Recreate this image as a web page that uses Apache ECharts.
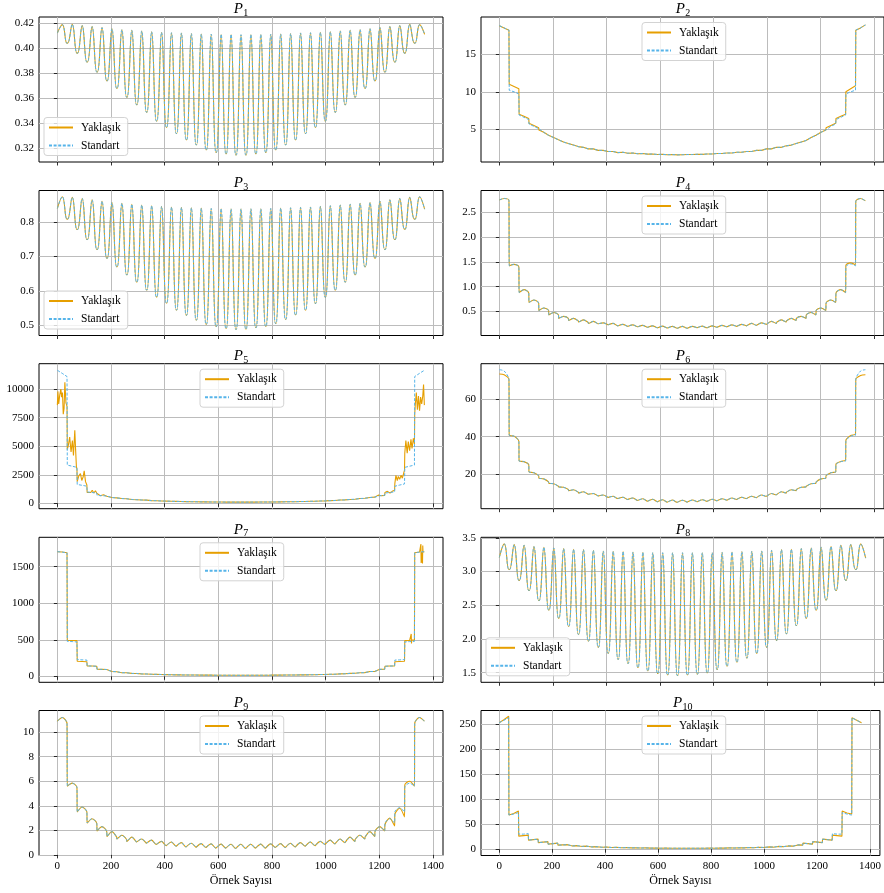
<!DOCTYPE html>
<html>
<head>
<meta charset="utf-8">
<script src="https://cdn.jsdelivr.net/npm/echarts@6/dist/echarts.min.js"></script>
<style>
  html, body { margin: 0; padding: 0; background: #fff; }
  #chart { width: 884px; height: 893px; }
</style>
</head>
<body>
<div id="chart"></div>
<script>
// ---- data: 37 segments of 37 samples each (1369 samples) ----
const SEG = 37;
const xTicks = [0, 200, 400, 600, 800, 1000, 1200, 1400];

// P1, P3, P8: continuous arches -> trough at each boundary, peak in each segment
const p1Trough = [0.412,0.404,0.396,0.389,0.381,0.374,0.368,0.361,0.355,0.349,0.342,0.337,0.332,0.327,0.323,0.319,0.317,0.316,0.315,0.315,0.316,0.317,0.319,0.323,0.327,0.332,0.337,0.342,0.349,0.355,0.361,0.368,0.374,0.381,0.389,0.396,0.404,0.411];
const p1Peak = [0.4187,0.4189,0.4179,0.4171,0.4163,0.4155,0.4147,0.4142,0.4137,0.4131,0.4126,0.4123,0.4121,0.4116,0.4113,0.4111,0.4109,0.4108,0.4107,0.4108,0.4109,0.4111,0.4113,0.4116,0.4121,0.4123,0.4126,0.4131,0.4137,0.4142,0.4147,0.4155,0.4163,0.4171,0.4179,0.4189,0.4187];
const p1Ticks = [0.32, 0.34, 0.36, 0.38, 0.40, 0.42];

const p3Trough = [0.839,0.808,0.778,0.749,0.720,0.695,0.670,0.647,0.626,0.603,0.583,0.565,0.545,0.530,0.516,0.504,0.497,0.492,0.489,0.490,0.494,0.498,0.506,0.518,0.531,0.545,0.564,0.582,0.603,0.626,0.647,0.670,0.695,0.720,0.749,0.779,0.808,0.837];
const p3Peak = [0.873,0.871,0.868,0.864,0.860,0.856,0.854,0.851,0.849,0.847,0.845,0.843,0.842,0.841,0.840,0.839,0.838,0.838,0.838,0.838,0.838,0.839,0.840,0.841,0.842,0.843,0.845,0.847,0.849,0.851,0.854,0.856,0.860,0.864,0.868,0.871,0.873];
const p3Ticks = [0.5, 0.6, 0.7, 0.8];

const p8Trough = [3.21,3.03,2.87,2.72,2.57,2.43,2.31,2.19,2.07,1.97,1.88,1.79,1.70,1.64,1.58,1.53,1.49,1.47,1.46,1.47,1.48,1.50,1.55,1.60,1.66,1.72,1.79,1.88,1.98,2.08,2.20,2.31,2.43,2.58,2.72,2.87,3.03,3.20];
const p8Peak = [3.41,3.40,3.39,3.37,3.36,3.35,3.34,3.33,3.325,3.315,3.305,3.30,3.295,3.29,3.285,3.28,3.28,3.28,3.28,3.28,3.28,3.28,3.285,3.29,3.295,3.30,3.305,3.315,3.325,3.33,3.34,3.35,3.36,3.37,3.39,3.40,3.41];
const p8Ticks = [1.5, 2.0, 2.5, 3.0, 3.5];

// Step panels: value at start, middle and end of each segment (Standart);
// Yaklaşık overrides as [segment, start, mid, end]
const p2Start = [18.8,10.2,6.9,5.7,4.9,4.2,3.5,3.1,2.8,2.6,2.4,2.2,2.05,1.95,1.85,1.78,1.72,1.68,1.64,1.6,1.62,1.65,1.7,1.75,1.82,1.9,2.05,2.2,2.4,2.7,3.1,3.6,4.2,5.1,6.3,9.7,18.2];
const p2Mid = [18.5,10.0,6.6,5.4,4.6,3.9,3.3,2.9,2.6,2.4,2.2,2.05,1.95,1.85,1.78,1.72,1.67,1.64,1.62,1.64,1.67,1.72,1.78,1.85,1.95,2.05,2.2,2.4,2.6,2.9,3.3,3.9,4.6,5.4,6.6,10.0,18.5];
const p2End = [18.2,9.7,6.3,5.1,4.2,3.6,3.1,2.7,2.4,2.2,2.05,1.9,1.82,1.75,1.7,1.65,1.62,1.6,1.64,1.68,1.72,1.78,1.85,1.95,2.05,2.2,2.4,2.6,2.8,3.1,3.5,4.2,4.9,5.7,6.9,10.2,18.9];
const p2YakPatch = [[1,11.0,10.7,10.4],[2,7.0,6.75,6.45],[3,5.8,5.5,5.2],[33,5.2,5.5,5.8],[34,6.45,6.75,7.0],[35,10.0,10.4,10.8]];
const p2Ticks = [5, 10, 15];

const p4Start = [2.75,1.42,0.88,0.68,0.52,0.43,0.36,0.32,0.29,0.26,0.24,0.22,0.21,0.20,0.19,0.18,0.17,0.17,0.16,0.16,0.165,0.17,0.18,0.19,0.20,0.21,0.23,0.25,0.28,0.31,0.36,0.43,0.52,0.67,0.87,1.40,2.72];
const p4Mid = [2.78,1.45,0.94,0.73,0.57,0.48,0.40,0.36,0.33,0.30,0.27,0.26,0.24,0.23,0.22,0.21,0.205,0.20,0.20,0.20,0.205,0.21,0.22,0.23,0.24,0.26,0.27,0.30,0.33,0.36,0.40,0.48,0.57,0.73,0.94,1.46,2.78];
const p4End = [2.74,1.40,0.87,0.67,0.52,0.43,0.36,0.31,0.28,0.25,0.23,0.21,0.20,0.19,0.18,0.17,0.165,0.16,0.16,0.17,0.17,0.18,0.19,0.20,0.21,0.22,0.24,0.26,0.29,0.32,0.36,0.43,0.52,0.68,0.88,1.42,2.73];
const p4YakPatch = [[35,1.43,1.48,1.44]];
const p4Ticks = [0.5, 1.0, 1.5, 2.0, 2.5];

const p5Start = [11650,3350,1650,1000,700,540,440,360,300,250,215,185,160,145,132,122,115,110,106,106,110,115,124,135,150,170,195,230,280,320,400,480,640,900,1500,3150,11100];
const p5Mid = [11380,3250,1580,950,670,510,420,340,290,240,205,178,155,140,128,118,112,108,105,108,112,118,128,140,155,178,205,240,290,340,420,510,670,950,1600,3250,11380];
const p5End = [11100,3150,1500,900,640,480,400,320,280,230,195,170,150,135,124,115,110,106,106,110,115,122,132,145,160,185,215,250,300,360,440,540,700,1000,1700,3350,11650];
// Yaklaşık at both ends: [sample, value]
const p5YakHead = [[0,8600],[2,9800],[5,8700],[9,9500],[13,10000],[16,9300],[19,9700],[22,7800],[25,8300],[28,10600],[32,8800],[36,8500],
  [37,4700],[41,5100],[46,5800],[51,4500],[56,5500],[60,4200],[65,6400],[68,4700],[71,3200],[73,3000],
  [74,1900],[80,2400],[86,2600],[91,2000],[96,2300],[100,2850],[105,1900],[110,1600],
  [111,950],[117,1100],[124,950],[130,1150],[136,900],[142,1100],[147,880],
  [148,720],[160,660],[172,760],[184,620]];
const p5YakTail = [[1184,620],[1196,720],[1208,660],[1220,700],
  [1221,950],[1230,1050],[1240,900],[1248,1050],[1257,1150],
  [1258,1750],[1262,2450],[1267,2000],[1271,2350],[1276,2100],[1281,2450],[1286,2200],[1290,2300],[1294,2900],
  [1295,4400],[1299,5500],[1304,4400],[1308,5400],[1313,4600],[1318,5600],[1322,4800],[1327,5700],[1331,5200],
  [1332,7800],[1334,8600],[1338,9700],[1342,8200],[1346,9400],[1350,8100],[1354,9300],[1358,8700],[1362,9400],[1365,10400],[1368,8600]];
const p5Ticks = [0, 2500, 5000, 7500, 10000];

const p6Start = [75.7,40.8,27.0,21.2,17.9,15.2,13.2,11.2,10.0,9.0,8.2,7.5,7.0,6.5,6.1,5.8,5.5,5.3,5.1,5.0,5.1,5.3,5.6,6.0,6.5,7.0,7.6,8.4,9.3,10.4,11.8,13.6,15.9,19.2,25.0,37.5,70.5];
const p6Mid = [75.0,40.3,26.7,20.8,17.5,14.9,13.0,11.7,10.6,9.7,8.9,8.2,7.7,7.3,6.9,6.6,6.4,6.2,6.1,6.2,6.4,6.6,6.9,7.3,7.7,8.2,8.9,9.7,10.6,11.7,13.0,14.9,17.5,20.8,26.7,40.3,75.0];
const p6End = [70.5,37.5,25.0,19.2,15.9,13.6,11.8,10.4,9.3,8.4,7.6,7.0,6.5,6.0,5.6,5.3,5.1,5.0,5.1,5.3,5.5,5.8,6.1,6.5,7.0,7.5,8.2,9.0,10.0,11.2,13.2,15.2,17.9,21.2,27.0,40.8,75.7];
const p6YakPatch = [[0,73.4,73.0,70.5],[34,25.5,26.8,27.6],[35,38.0,40.6,41.6],[36,70.5,72.6,73.0]];
const p6Ticks = [20, 40, 60];

const p7Start = [1705,478,228,142,96,66,50,41,34,29,25,22,20,18,17,16,15,14.5,14,14,14.5,15,16,17,18.5,20,23,27,32,39,48,63,93,138,222,470,1690];
const p7Mid = [1700,475,225,140,95,65,49,40,33,28,24,21,19,17.5,16.5,15.5,15,14.5,14,14.5,15,15.5,16.5,17.5,19,21,24,28,33,40,49,65,95,140,225,475,1700];
const p7End = [1690,470,222,138,93,63,48,39,32,27,23,20,18.5,17,16,15,14.5,14,14,14.5,15,16,17,18,20,22,25,29,34,41,50,66,96,142,228,478,1705];
const p7YakPatch = [[1,492,490,488],[2,205,203,200],[34,200,203,205],[35,488,490,492]];
const p7YakSpikes = [[1318,490],[1319,580],[1320,450],[1321,500],[1354,1700],[1355,1810],[1356,1550],[1357,1700],[1360,1720],[1361,1545],[1362,1790],[1363,1700]];
const p7Ticks = [0, 500, 1000, 1500];

const p9Start = [10.9,5.6,3.5,2.6,1.95,1.5,1.3,1.1,1.0,0.9,0.85,0.75,0.7,0.65,0.6,0.6,0.55,0.55,0.52,0.52,0.55,0.55,0.6,0.62,0.65,0.7,0.75,0.85,0.95,1.05,1.25,1.45,1.9,2.55,3.5,5.5,10.7];
const p9Mid = [11.2,5.85,3.9,2.95,2.3,1.9,1.6,1.45,1.3,1.2,1.1,1.05,1.0,0.95,0.92,0.9,0.88,0.87,0.87,0.87,0.88,0.9,0.92,0.95,1.0,1.05,1.1,1.2,1.3,1.45,1.6,1.9,2.3,2.95,3.85,5.85,11.2];
const p9End = [10.7,5.5,3.5,2.55,1.9,1.45,1.25,1.05,0.95,0.85,0.75,0.7,0.65,0.62,0.6,0.55,0.55,0.52,0.52,0.55,0.55,0.6,0.6,0.65,0.7,0.75,0.85,0.9,1.0,1.1,1.3,1.5,1.95,2.6,3.5,5.6,10.9];
const p9YakPatch = [[33,2.45,3.0,2.35],[34,3.3,3.8,3.1],[35,5.7,6.0,5.6]];
const p9Ticks = [0, 2, 4, 6, 8, 10];

const p10Start = [252,68,30,18,13,10,8,6,5,4,3.5,3,2.6,2.3,2.1,2,1.9,1.8,1.8,2,2.1,2.3,2.6,2.9,3.2,3.7,4.2,5,6,7,9,12,15,20,31,73,262];
const p10Mid = [257,70,30,19,14,11,8.5,6.5,5.5,4.5,3.8,3.3,2.9,2.6,2.3,2.1,2,1.9,1.8,1.9,2,2.1,2.3,2.6,2.9,3.3,3.8,4.5,5.5,6.5,8.5,11,14,19,30,70,257];
const p10End = [262,73,31,20,15,12,9,7,6,5,4.2,3.7,3.2,2.9,2.6,2.3,2.1,2,1.8,1.8,1.9,2,2.1,2.3,2.6,3,3.5,4,5,6,8,10,13,18,30,68,252];
const p10YakPatch = [[0,252,258,265],[1,68,71,76],[2,26,27,28],[34,28,27,26],[35,76,72,70]];
const p10Ticks = [0, 50, 100, 150, 200, 250];

// ---- helpers turning segment values into [sample, value] points ----
// each cusp is held over the few samples around the boundary so the
// smoothed curve keeps a sharp bottom and a rounded top
function archLine(trough, peak) {
  const n = peak.length, pts = [[0, trough[0]]];
  for (let k = 0; k < n; k++) {
    pts.push([k * SEG + 18.5, peak[k]]);
    if (k < n - 1) pts.push([(k + 1) * SEG - 1.5, trough[k + 1]], [(k + 1) * SEG + 1.5, trough[k + 1]]);
  }
  pts.push([n * SEG, trough[n]]);
  return pts;
}
function segLine(a, m, b, patch, extra) {
  const s = a.slice(), mm = m.slice(), e = b.slice();
  (patch || []).forEach(p => { s[p[0]] = p[1]; mm[p[0]] = p[2]; e[p[0]] = p[3]; });
  const pts = [];
  for (let k = 0; k < s.length; k++) {
    pts.push([k * SEG, s[k]], [k * SEG + 18, mm[k]], [k * SEG + 36, e[k]]);
  }
  if (extra) { extra.forEach(p => pts.push(p)); pts.sort((u, v) => u[0] - v[0]); }
  return pts;
}
const p5StdPts = segLine(p5Start, p5Mid, p5End);
const p5YakPts = p5YakHead
  .concat(p5StdPts.filter(p => p[0] > 184 && p[0] < 1184))
  .concat(p5YakTail);

// ---- layout ----
const FONT = "'Liberation Serif','DejaVu Serif',serif";
const ORANGE = '#E69F00', BLUE = '#56B4E9';
const colLeft = [39, 481];
const rowTop = [17, 190.5, 363.7, 537.3, 710.5];
const boxW = 404, boxH = 145;
const xMin = -68.45, xMax = 1437.45;

const panels = [
  { sub: '1', col: 0, row: 0, yMin: 0.3093, yMax: 0.4248, ticks: p1Ticks, dec: 2, leg: 'll', smooth: 0.45,
    yak: archLine(p1Trough, p1Peak), std: archLine(p1Trough, p1Peak) },
  { sub: '2', col: 1, row: 0, yMin: 0.65, yMax: 19.95, ticks: p2Ticks, dec: 0, leg: 'uc',
    yak: segLine(p2Start, p2Mid, p2End, p2YakPatch), std: segLine(p2Start, p2Mid, p2End) },
  { sub: '3', col: 0, row: 1, yMin: 0.471, yMax: 0.891, ticks: p3Ticks, dec: 1, leg: 'll', smooth: 0.45,
    yak: archLine(p3Trough, p3Peak), std: archLine(p3Trough, p3Peak) },
  { sub: '4', col: 1, row: 1, yMin: 0.015, yMax: 2.94, ticks: p4Ticks, dec: 1, leg: 'uc', smooth: 0.3,
    yak: segLine(p4Start, p4Mid, p4End, p4YakPatch), std: segLine(p4Start, p4Mid, p4End) },
  { sub: '5', col: 0, row: 2, yMin: -470, yMax: 12225, ticks: p5Ticks, dec: 0, leg: 'uc',
    yak: p5YakPts, std: p5StdPts },
  { sub: '6', col: 1, row: 2, yMin: 1.6, yMax: 78.9, ticks: p6Ticks, dec: 0, leg: 'uc', smooth: 0.3,
    yak: segLine(p6Start, p6Mid, p6End, p6YakPatch), std: segLine(p6Start, p6Mid, p6End) },
  { sub: '7', col: 0, row: 3, yMin: -82, yMax: 1902, ticks: p7Ticks, dec: 0, leg: 'uc',
    yak: segLine(p7Start, p7Mid, p7End, p7YakPatch, p7YakSpikes), std: segLine(p7Start, p7Mid, p7End) },
  { sub: '8', col: 1, row: 3, yMin: 1.358, yMax: 3.508, ticks: p8Ticks, dec: 1, leg: 'll', smooth: 0.45,
    yak: archLine(p8Trough, p8Peak), std: archLine(p8Trough, p8Peak) },
  { sub: '9', col: 0, row: 4, yMin: -0.05, yMax: 11.77, ticks: p9Ticks, dec: 0, leg: 'uc', smooth: 0.3,
    yak: segLine(p9Start, p9Mid, p9End, p9YakPatch), std: segLine(p9Start, p9Mid, p9End) },
  { sub: '10', col: 1, row: 4, yMin: -12.6, yMax: 276.5, ticks: p10Ticks, dec: 0, leg: 'uc',
    yak: segLine(p10Start, p10Mid, p10End, p10YakPatch), std: segLine(p10Start, p10Mid, p10End) }
];

const grid = [], xAxis = [], yAxis = [], series = [], legend = [], graphic = [];
const gridLineStyle = { color: '#bcbcbc', width: 1 };
const tickStyle = { color: '#000', width: 0.8 };
const labelStyle = { fontFamily: FONT, fontSize: 11, color: '#000' };

panels.forEach((p, i) => {
  const left = colLeft[p.col], top = rowTop[p.row];
  grid.push({ left: left, top: top, width: boxW, height: boxH, show: true,
              borderColor: '#000', borderWidth: 1, backgroundColor: 'transparent' });
  const bottomRow = p.row === 4;
  xAxis.push({
    gridIndex: i, type: 'value', min: xMin, max: xMax, minInterval: 200, maxInterval: 200,
    axisLine: { show: false },
    axisTick: { show: true, length: 3.5, customValues: xTicks, lineStyle: tickStyle },
    axisLabel: Object.assign({ show: bottomRow, customValues: xTicks, margin: 5,
      formatter: v => String(Math.round(v)) }, labelStyle),
    splitLine: { show: true, lineStyle: gridLineStyle },
    name: bottomRow ? 'Örnek Sayısı' : '', nameLocation: 'middle', nameGap: 19,
    nameTextStyle: { fontFamily: FONT, fontSize: 12, color: '#000' }
  });
  const step = p.ticks[1] - p.ticks[0];
  yAxis.push({
    gridIndex: i, type: 'value', min: p.yMin, max: p.yMax, minInterval: step, maxInterval: step,
    axisLine: { show: false },
    axisTick: { show: true, length: 3.5, customValues: p.ticks, lineStyle: tickStyle },
    axisLabel: Object.assign({ customValues: p.ticks, margin: 5,
      formatter: v => Number(v).toFixed(p.dec) }, labelStyle),
    splitLine: { show: true, lineStyle: gridLineStyle }
  });
  const common = { type: 'line', xAxisIndex: i, yAxisIndex: i, showSymbol: false, symbol: 'none',
                   animation: false, smooth: p.smooth || false, silent: true };
  series.push(Object.assign({ name: 'Yaklaşık', data: p.yak, z: 2,
    lineStyle: { color: ORANGE, width: 1.1 }, itemStyle: { color: ORANGE } }, common));
  series.push(Object.assign({ name: 'Standart', data: p.std, z: 3,
    lineStyle: { color: BLUE, width: 1, type: [3, 1.6] }, itemStyle: { color: BLUE } }, common));

  const legTop = p.leg === 'll' ? top + boxH - 44.5 : top + 5.5;
  const legLeft = p.leg === 'll' ? left + 5 : left + 161;
  legend.push({
    data: ['Yaklaşık', 'Standart'], orient: 'vertical', left: legLeft, top: legTop,
    itemWidth: 24, itemHeight: 10, itemGap: 6, padding: [4, 7, 4, 4],
    backgroundColor: 'rgba(255,255,255,0.8)', borderColor: '#d3d3d3', borderWidth: 1, borderRadius: 3,
    selectedMode: false,
    itemStyle: { opacity: 0 },
    textStyle: { fontFamily: FONT, fontSize: 11.5, color: '#000', padding: [0, 0, 0, 3] }
  });

  // panel title: italic P with subscript index
  const cx = left + boxW / 2;
  const w = 9.5 + 5.2 * p.sub.length;
  graphic.push({ type: 'text', left: cx - w / 2, top: top - 15, silent: true,
    style: { text: 'P', font: 'italic 15px ' + FONT, fill: '#000' } });
  graphic.push({ type: 'text', left: cx - w / 2 + 9.5, top: top - 8.5, silent: true,
    style: { text: p.sub, font: '10px ' + FONT, fill: '#000' } });
});

const chart = echarts.init(document.getElementById('chart'), null, { renderer: 'canvas' });
chart.setOption({
  backgroundColor: '#fff',
  animation: false,
  textStyle: { fontFamily: FONT },
  grid, xAxis, yAxis, series, legend, graphic
});
</script>
</body>
</html>
